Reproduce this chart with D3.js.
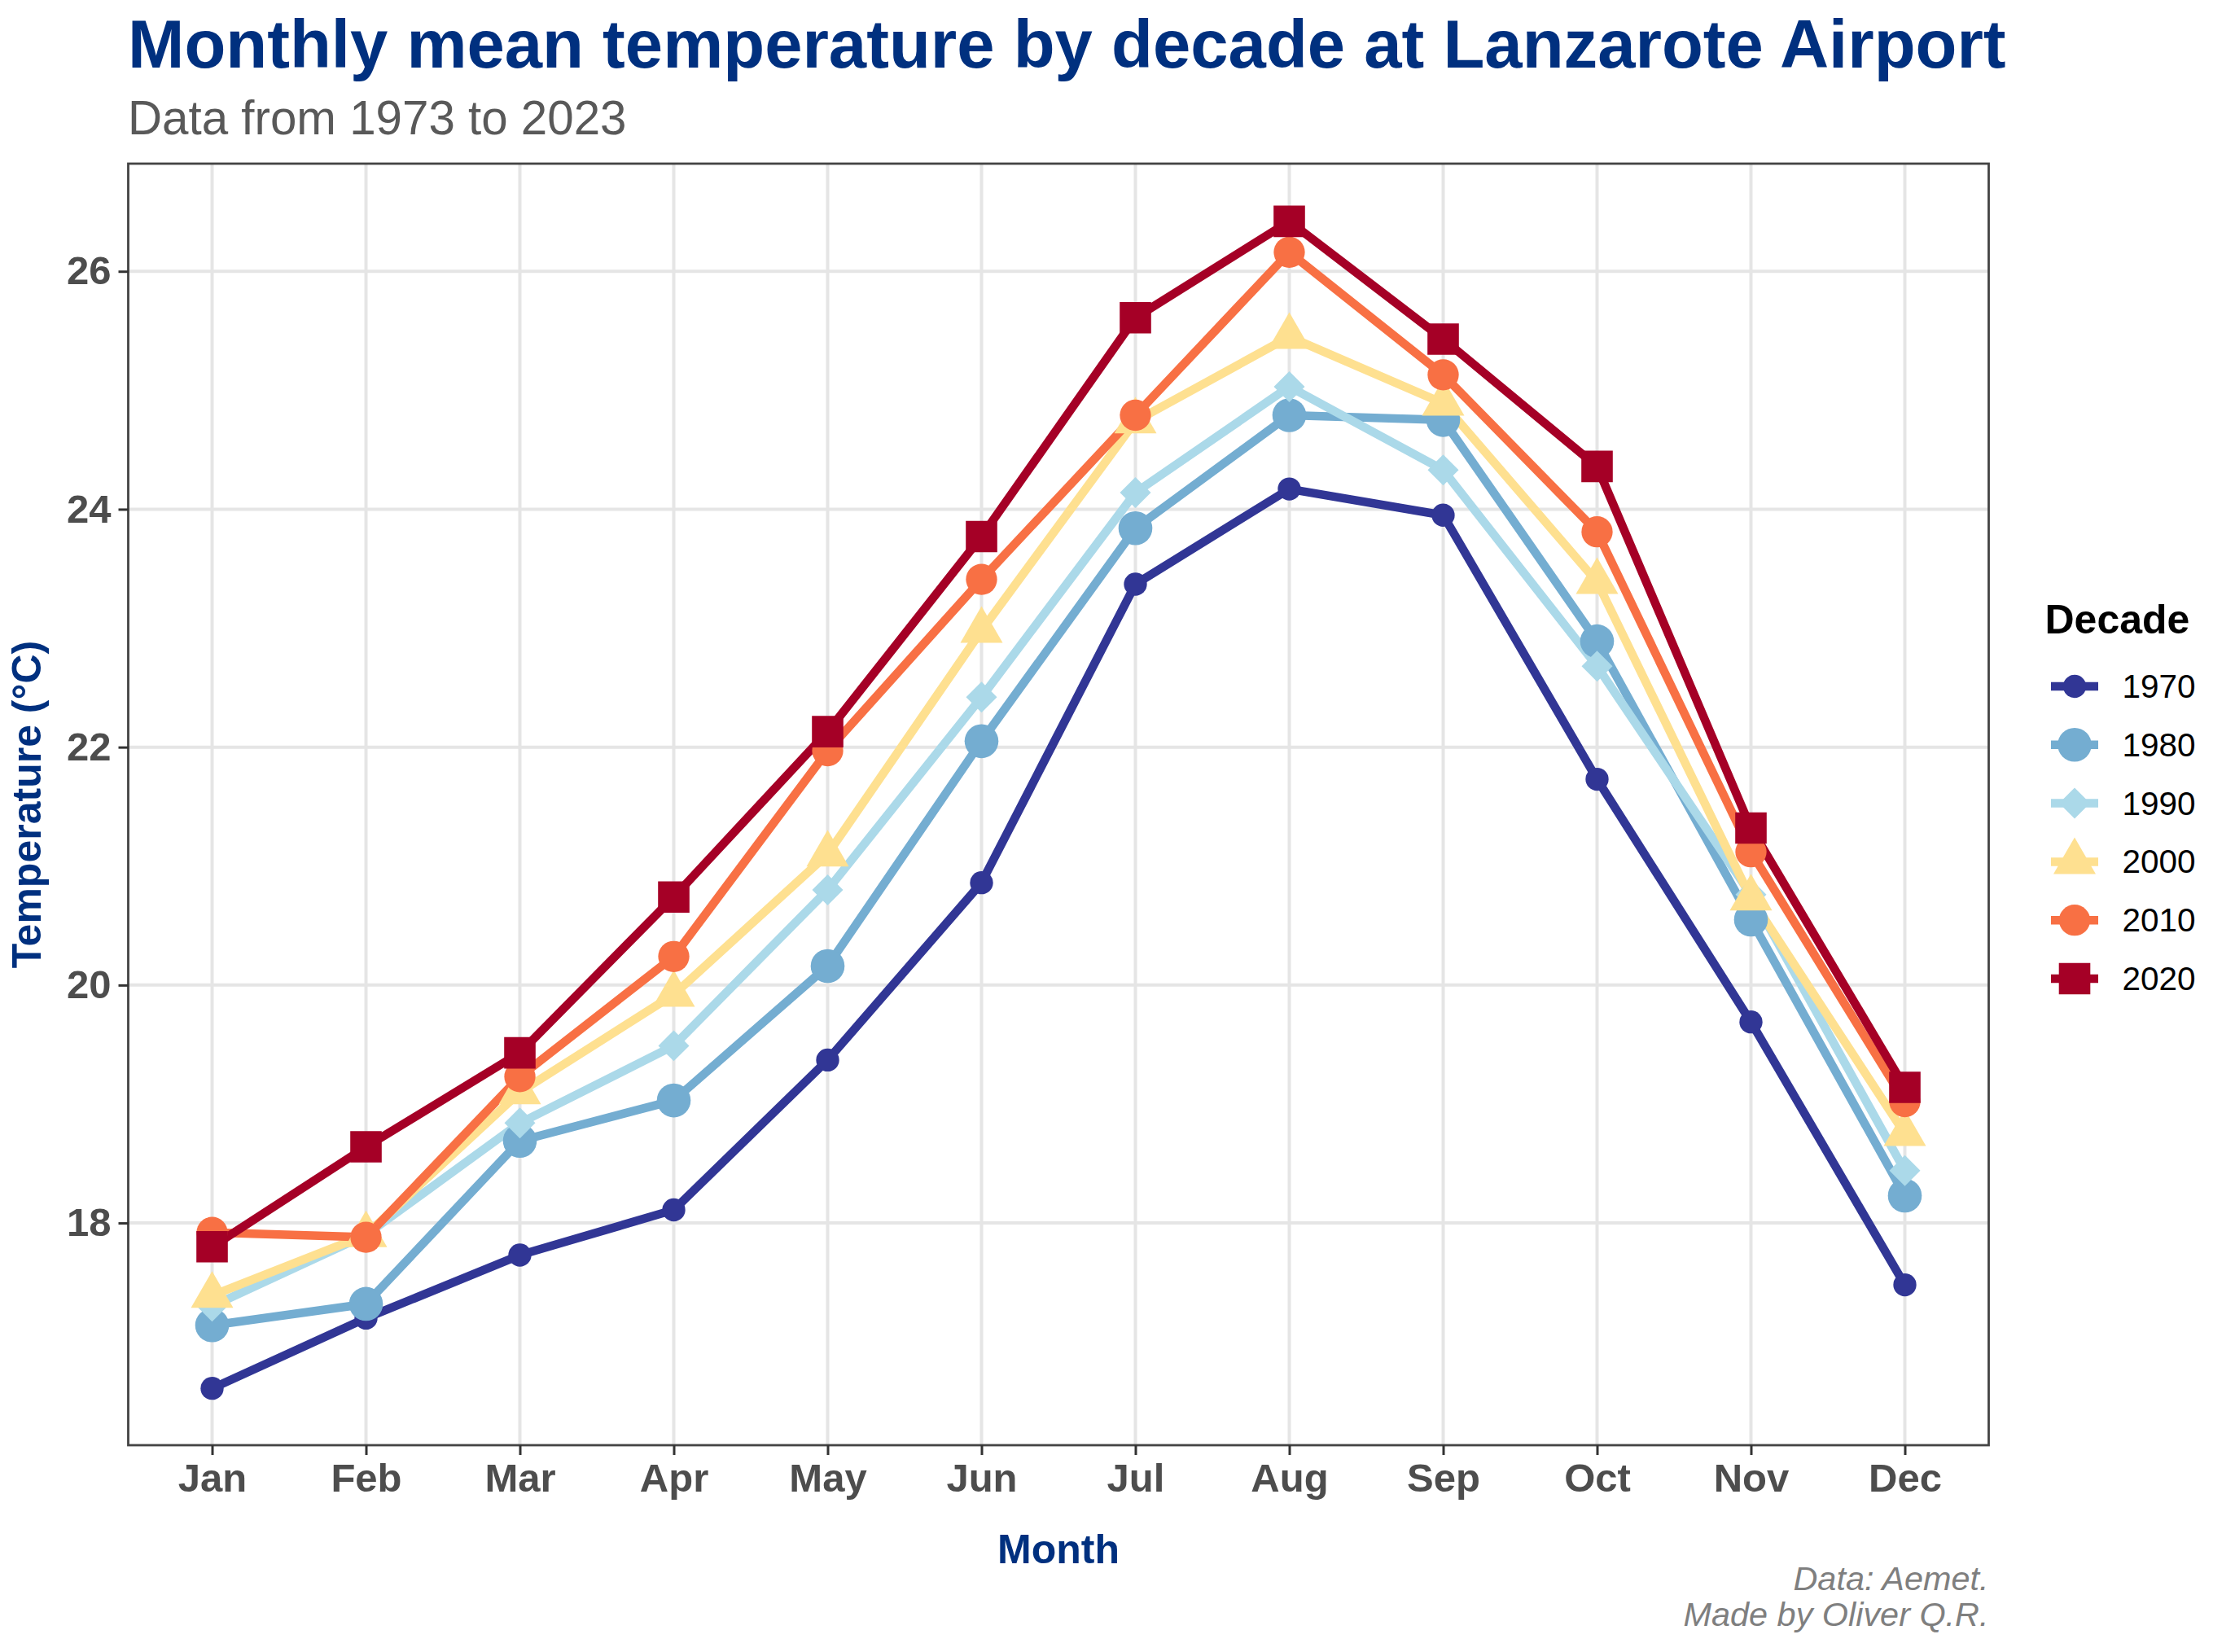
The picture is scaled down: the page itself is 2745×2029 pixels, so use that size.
<!DOCTYPE html>
<meta charset="utf-8">
<style>
body { margin: 0; background: #fff; }
text { font-family: "Liberation Sans", Arial, sans-serif; }
.tick text { font-weight: bold; font-size: 49px; fill: #4d4d4d; }
.tick line { stroke: #333; stroke-width: 3px; }
.domain { display: none; }
.grid line { stroke: #e5e5e5; stroke-width: 4px; }
</style>
<script src="https://d3js.org/d3.v7.min.js"></script>
<body>
<div id="chart"></div>
</body>
<script>

var months = ["Jan", "Feb", "Mar", "Apr", "May", "Jun", "Jul", "Aug", "Sep", "Oct", "Nov", "Dec"];
var decades = ["1970", "1980", "1990", "2000", "2010", "2020"];

var t1970 = [16.61, 17.20, 17.73, 18.11, 19.37, 20.86, 23.37, 24.17, 23.95, 21.73, 19.69, 17.48];
var t1980 = [17.14, 17.32, 18.69, 19.03, 20.16, 22.05, 23.84, 24.79, 24.75, 22.89, 20.55, 18.23];
var t1990 = [17.30, 17.90, 18.84, 19.49, 20.80, 22.42, 24.14, 25.03, 24.33, 22.68, 20.76, 18.44];
var t2000 = [17.39, 17.90, 19.10, 19.92, 21.10, 22.98, 24.74, 25.45, 24.89, 23.39, 20.73, 18.75];
var t2010 = [17.92, 17.88, 19.23, 20.24, 21.97, 23.41, 24.79, 26.16, 25.13, 23.81, 21.12, 19.02];
var t2020 = [17.80, 18.64, 19.43, 20.74, 22.13, 23.77, 25.61, 26.42, 25.43, 24.36, 21.32, 19.14];
var yTicks = [18, 20, 22, 24, 26];

var seriesValues = [t1970, t1980, t1990, t2000, t2010, t2020];
var colors = ["#313695", "#74add1", "#abd9e9", "#fee090", "#f87044", "#a50026"];
var shapes = [d3.symbolCircle, d3.symbolCircle, d3.symbolDiamond2, d3.symbolTriangle, d3.symbolCircle, d3.symbolSquare];
var shapeSizes = [630, 1360, 920, 1170, 1152, 1490];

var width = 2745, height = 2029;
var panel = {left: 157.5, right: 2442.5, top: 201, bottom: 1775};

var svg = d3.select("#chart").append("svg")
    .attr("width", width)
    .attr("height", height)
    .style("display", "block");

var x = d3.scalePoint().domain(months).range([panel.left, panel.right]).padding(0.545);
var y = d3.scaleLinear().domain([16.132, 26.905]).range([panel.bottom, panel.top]);

// grid first
var grid = svg.append("g").attr("class", "grid");
grid.selectAll(".gx").data(months).enter().append("line")
    .attr("x1", function(d) { return x(d); })
    .attr("x2", function(d) { return x(d); })
    .attr("y1", panel.top)
    .attr("y2", panel.bottom);
grid.selectAll(".gy").data(yTicks).enter().append("line")
    .attr("x1", panel.left)
    .attr("x2", panel.right)
    .attr("y1", function(d) { return y(d); })
    .attr("y2", function(d) { return y(d); });

// all lines, then all points on top
var line = d3.line()
    .x(function(d, i) { return x(months[i]); })
    .y(function(d) { return y(d); });

seriesValues.forEach(function(vals, s) {
  svg.append("path")
      .datum(vals)
      .attr("fill", "none")
      .attr("stroke", colors[s])
      .attr("stroke-width", 10.5)
      .attr("stroke-linejoin", "round")
      .attr("d", line);
});

seriesValues.forEach(function(vals, s) {
  svg.append("g").selectAll("path").data(vals).enter().append("path")
      .attr("fill", colors[s])
      .attr("transform", function(d, i) { return "translate(" + x(months[i]) + "," + y(d) + ")"; })
      .attr("d", d3.symbol().type(shapes[s]).size(shapeSizes[s]));
});

// panel border
svg.append("rect")
    .attr("x", panel.left)
    .attr("y", panel.top)
    .attr("width", panel.right - panel.left)
    .attr("height", panel.bottom - panel.top)
    .attr("fill", "none")
    .attr("stroke", "#444")
    .attr("stroke-width", 2.8);

// axes
svg.append("g")
    .attr("transform", "translate(0," + panel.bottom + ")")
    .call(d3.axisBottom(x).tickSize(12).tickPadding(10));
svg.append("g")
    .attr("transform", "translate(" + panel.left + ",0)")
    .call(d3.axisLeft(y).tickValues(yTicks).tickSize(12).tickPadding(9));

// titles
svg.append("text")
    .attr("x", 157)
    .attr("y", 83)
    .attr("font-size", 83.3)
    .attr("font-weight", "bold")
    .attr("fill", "#00307f")
    .text("Monthly mean temperature by decade at Lanzarote Airport");
svg.append("text")
    .attr("x", 157)
    .attr("y", 165)
    .attr("font-size", 58.3)
    .attr("fill", "#595959")
    .text("Data from 1973 to 2023");

svg.append("text")
    .attr("x", (panel.left + panel.right) / 2)
    .attr("y", 1920)
    .attr("text-anchor", "middle")
    .attr("font-size", 50)
    .attr("font-weight", "bold")
    .attr("fill", "#00307f")
    .text("Month");
svg.append("text")
    .attr("transform", "translate(50," + (panel.top + panel.bottom) / 2 + ") rotate(-90)")
    .attr("text-anchor", "middle")
    .attr("font-size", 50)
    .attr("font-weight", "bold")
    .attr("fill", "#00307f")
    .text("Temperature (°C)");

svg.append("text")
    .attr("x", panel.right)
    .attr("y", 1953)
    .attr("text-anchor", "end")
    .attr("font-size", 41.4)
    .attr("font-style", "italic")
    .attr("fill", "#7f7f7f")
    .text("Data: Aemet.");
svg.append("text")
    .attr("x", panel.right)
    .attr("y", 1997)
    .attr("text-anchor", "end")
    .attr("font-size", 41.4)
    .attr("font-style", "italic")
    .attr("fill", "#7f7f7f")
    .text("Made by Oliver Q.R.");

// legend
var legendY = d3.scalePoint().domain(decades).range([843, 1202]);
svg.append("text")
    .attr("x", 2511.5)
    .attr("y", 778)
    .attr("font-size", 50)
    .attr("font-weight", "bold")
    .attr("fill", "#000")
    .text("Decade");

decades.forEach(function(d, s) {
  var key = svg.append("g").attr("transform", "translate(2548," + legendY(d) + ")");
  key.append("line")
      .attr("x1", -29)
      .attr("x2", 29)
      .attr("stroke", colors[s])
      .attr("stroke-width", 10.5);
  key.append("path")
      .attr("fill", colors[s])
      .attr("d", d3.symbol().type(shapes[s]).size(shapeSizes[s]));
  key.append("text")
      .attr("x", 58.5)
      .attr("y", 14)
      .attr("font-size", 40.5)
      .attr("fill", "#000")
      .text(d);
});

</script>
